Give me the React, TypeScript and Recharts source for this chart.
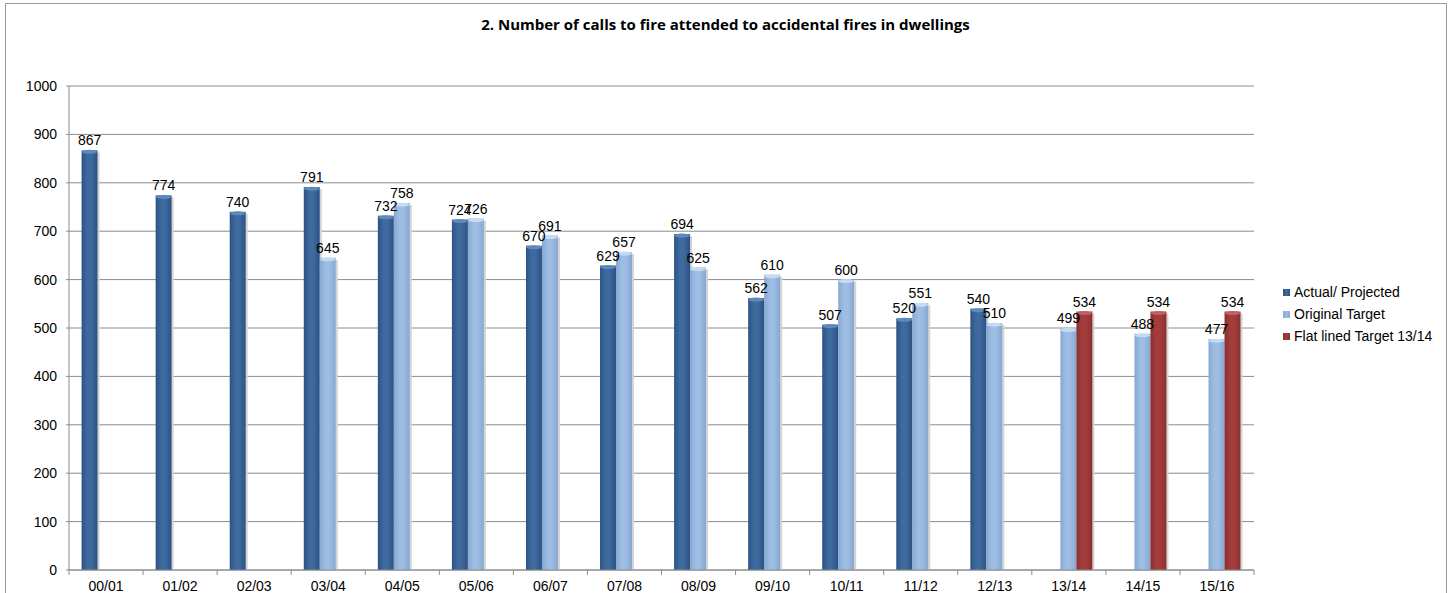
import React from 'react'
import { BarChart, Bar, XAxis, YAxis, CartesianGrid, LabelList } from 'recharts'

const YEARS = [
  '00/01', '01/02', '02/03', '03/04', '04/05', '05/06', '06/07', '07/08',
  '08/09', '09/10', '10/11', '11/12', '12/13', '13/14', '14/15', '15/16',
]
const ACTUAL = [867, 774, 740, 791, 732, 724, 670, 629, 694, 562, 507, 520, 540, null, null, null]
const ORIGINAL = [null, null, null, 645, 758, 726, 691, 657, 625, 610, 600, 551, 510, 499, 488, 477]
const FLAT = [null, null, null, null, null, null, null, null, null, null, null, null, null, 534, 534, 534]
const Y_TICKS = [0, 100, 200, 300, 400, 500, 600, 700, 800, 900, 1000]

const SERIES = [
  { key: 'actual', name: 'Actual/ Projected', dark: '#2c5282', mid: '#3e6a9e', light: '#5f88bb' },
  { key: 'original', name: 'Original Target', dark: '#86a7d0', mid: '#9dbde3', light: '#c4daf2' },
  { key: 'flat', name: 'Flat lined Target 13/14', dark: '#8a2f2e', mid: '#a23d3c', light: '#c0605e' },
]

const data = YEARS.map((year, i) => ({
  year,
  actual: ACTUAL[i],
  original: ORIGINAL[i],
  flat: FLAT[i],
}))

const FONT = '"Liberation Sans", Arial, sans-serif'
const GRID = '#8c8c8c'

// cylinder-ish bar: gradient body + lighter cap
function makeShape(key: string, light: string) {
  return function CylShape(props: any) {
    const { x, y, width, height } = props
    if (!height || height <= 0) return null
    return (
      <g>
        <rect x={x + width} y={y + 2} width={2} height={height - 2} fill="#d4d4d4" />
        <rect x={x} y={y} width={width} height={height} fill={`url(#grad-${key})`} />
        <ellipse cx={x + width / 2} cy={y + 1.5} rx={width / 2} ry={2} fill={light} />
      </g>
    )
  }
}

function XTick(props: any) {
  const { x, y, payload, index, width, visibleTicksCount } = props
  const half = width / visibleTicksCount / 2
  const last = index === visibleTicksCount - 1
  return (
    <g>
      <line x1={x - half} x2={x - half} y1={y} y2={y + 5} stroke={GRID} />
      {last && <line x1={x + half} x2={x + half} y1={y} y2={y + 5} stroke={GRID} />}
      <text x={x} y={y + 21} textAnchor="middle" fontSize={14} fill="#000" fontFamily={FONT}>
        {payload.value}
      </text>
    </g>
  )
}

export default function App() {
  return (
    <div style={{ position: 'absolute', left: 0, top: 0, width: 1451, height: 593, background: '#fff', overflow: 'hidden' }}>
      <div
        style={{
          position: 'absolute', left: 5, top: 3, width: 1442, height: 640,
          border: '1px solid #9a9a9a', boxSizing: 'border-box',
        }}
      />
      <div
        style={{
          position: 'absolute', left: 0, top: 14, width: 1451, textAlign: 'center',
          fontFamily: '"Open Sans", Lato, sans-serif', fontWeight: 700, fontSize: 15, color: '#000',
        }}
      >
        2. Number of calls to fire attended to accidental fires in dwellings
      </div>

      <div style={{ position: 'absolute', left: 0, top: 0 }}>
        <BarChart
          width={1451}
          height={593}
          data={data}
          margin={{ top: 86, right: 197, bottom: 3, left: 0 }}
          barCategoryGap="17%"
          barGap={0}
        >
          <defs>
            {SERIES.map((s) => (
              <linearGradient key={s.key} id={`grad-${s.key}`} x1="0" y1="0" x2="1" y2="0">
                <stop offset="0%" stopColor={s.dark} />
                <stop offset="35%" stopColor={s.mid} />
                <stop offset="60%" stopColor={s.mid} />
                <stop offset="100%" stopColor={s.dark} />
              </linearGradient>
            ))}
          </defs>
          <CartesianGrid vertical={false} stroke={GRID} strokeWidth={1} />
          <XAxis
            dataKey="year"
            height={20}
            interval={0}
            axisLine={{ stroke: GRID }}
            tickLine={false}
            tickSize={0}
            tickMargin={0}
            tick={<XTick />}
          />
          <YAxis
            width={69}
            domain={[0, 1000]}
            ticks={Y_TICKS}
            interval={0}
            axisLine={{ stroke: GRID }}
            tickLine={{ stroke: GRID }}
            tickSize={3}
            tickMargin={9}
            tick={{ fontSize: 14, fill: '#000', fontFamily: FONT }}
          />
          {SERIES.map((s) => (
            <Bar
              key={s.key}
              dataKey={s.key}
              name={s.name}
              fill={s.mid}
              shape={makeShape(s.key, s.light)}
              isAnimationActive={false}
            >
              <LabelList
                dataKey={s.key}
                position="top"
                offset={5}
                style={{ fontSize: 14, fill: '#000', fontFamily: FONT }}
              />
            </Bar>
          ))}
        </BarChart>
      </div>

      <div style={{ position: 'absolute', left: 1283, top: 281, fontFamily: FONT, fontSize: 14, color: '#000' }}>
        {SERIES.map((s) => (
          <div key={s.key} style={{ display: 'flex', alignItems: 'center', height: 22 }}>
            <span
              style={{
                display: 'inline-block', width: 7, height: 7, marginRight: 4,
                background: `linear-gradient(to right, ${s.dark}, ${s.mid}, ${s.dark})`,
              }}
            />
            {s.name}
          </div>
        ))}
      </div>
    </div>
  )
}
